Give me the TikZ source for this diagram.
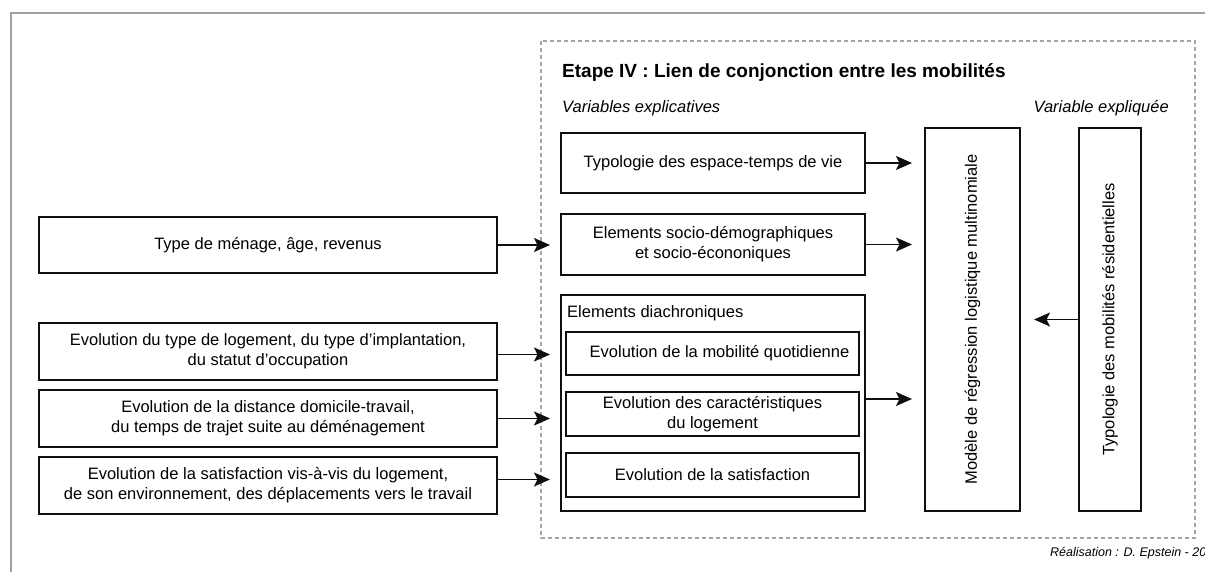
\documentclass[tikz,border=0pt]{standalone}
\usepackage{fontspec}
\setmainfont{Liberation Sans}
\usepackage{tikz}
\usetikzlibrary{calc, positioning, arrows.meta}
\definecolor{framegrey}{RGB}{160,160,160}
\definecolor{dashgrey}{RGB}{165,165,165}
\definecolor{boxline}{RGB}{15,15,15}

\begin{document}
\begin{tikzpicture}[
  x=1pt, y=-1pt,
  font=\fontsize{16.5}{20}\selectfont,
  box/.style={draw=boxline, line width=2pt, inner sep=0pt, align=center},
  arr/.style={-{Stealth[length=16pt, width=14pt, inset=3.5pt]}, line width=1.8pt, draw=boxline},
  lbl/.style={inner sep=0pt, font=\fontsize{16.5}{20}\selectfont\itshape}
]
\useasboundingbox (0,0) rectangle (1205,572);
\draw[framegrey, line width=1.8pt] (1210,13) -- (11,13) -- (11,580);
\draw[dashgrey, line width=1.3pt, dash pattern=on 4pt off 3pt] (541,41) rectangle (1195,538);

\node[anchor=west, inner sep=0pt, font=\fontsize{19}{22}\selectfont\bfseries] (etape) at (562,73) {Etape IV : Lien de conjonction entre les mobilités};
\node[lbl, anchor=west] (explic) at (562,108) {Variables explicatives};
\node[lbl, anchor=east] (expliq) at (1169,108) {Variable expliquée};

\node[box, minimum width=458pt, minimum height=56pt] (men) at (268,245) {Type de ménage, âge, revenus};
\node[box, minimum width=458pt, minimum height=57pt] (ev1) at (268,351.5) {Evolution du type de logement, du type d’implantation,\\du statut d’occupation};
\node[box, minimum width=458pt, minimum height=57pt] (ev2) at (268,418.5) {Evolution de la distance domicile-travail,\\du temps de trajet suite au déménagement};
\node[box, minimum width=458pt, minimum height=57pt] (ev3) at (268,485.5) {Evolution de la satisfaction vis-à-vis du logement,\\de son environnement, des déplacements vers le travail};

\node[box, minimum width=304pt, minimum height=60pt] (esp) at (713,163) {Typologie des espace-temps de vie};
\node[box, minimum width=304pt, minimum height=61pt] (soc) at (713,244.5) {Elements socio-démographiques\\et socio-écononiques};
\node[box, minimum width=304pt, minimum height=216pt] (dia) at (713,403) {};
\node[anchor=west, inner sep=0pt] (dialbl) at (567,313) {Elements diachroniques};
\node[box, minimum width=293pt, minimum height=43pt] (in1) at (712.5,353.5) {\hspace{14pt}Evolution de la mobilité quotidienne};
\node[box, minimum width=293pt, minimum height=44pt] (in2) at (712.5,414) {Evolution des caractéristiques\\du logement};
\node[box, minimum width=293pt, minimum height=44pt] (in3) at (712.5,475) {Evolution de la satisfaction};

\node[box, minimum width=95pt, minimum height=383pt] (modele) at (972.5,319.5) {};
\node[rotate=90, inner sep=0pt] (modelelbl) at (modele) {Modèle de régression logistique multinomiale};
\node[box, minimum width=62pt, minimum height=383pt] (typmob) at (1110,319.5) {};
\node[rotate=90, inner sep=0pt] (typmoblbl) at (typmob) {Typologie des mobilités résidentielles};

\coordinate (gate) at (550,0);
\draw[arr] (men.east) -- (men.east -| gate);
\draw[arr] ([yshift=-3pt]ev1.east) -- ([yshift=-3pt]ev1.east -| gate);
\draw[arr] (ev2.east) -- (ev2.east -| gate);
\draw[arr] ([yshift=6pt]ev3.east) -- ([yshift=6pt]ev3.east -| gate);

\draw[arr, shorten >=12pt] (esp.east) -- (esp.east -| modele.west);
\draw[arr, shorten >=12pt] (soc.east) -- (soc.east -| modele.west);
\draw[arr, shorten >=12pt] ([yshift=4pt]dia.east) -- ([yshift=4pt]dia.east -| modele.west);
\draw[arr, shorten >=13pt] (typmob.west) -- (typmob.west -| modele.east);

\node[anchor=west, inner sep=0pt, font=\fontsize{12.5}{14}\selectfont\itshape] (real) at (1050,553) {Réalisation : D. Epstein - 2013};
\end{tikzpicture}
\end{document}
